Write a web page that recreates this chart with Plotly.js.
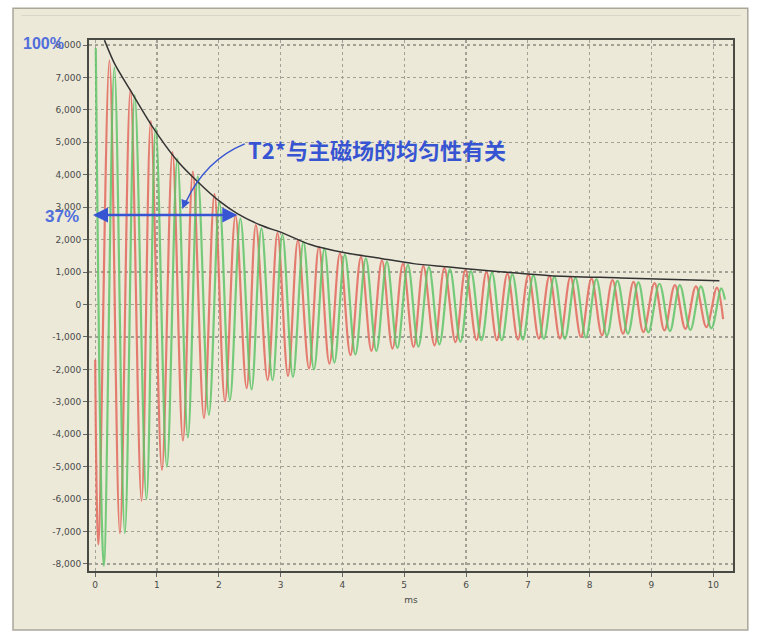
<!DOCTYPE html>
<html>
<head>
<meta charset="utf-8">
<script src="https://cdn.plot.ly/plotly-3.0.1.min.js"></script>
<style>html,body{margin:0;padding:0;background:#fff;}#chart{width:757px;height:636px;}</style>
</head>
<body>
<div id="chart"></div>
<script>
// Red signal: extrema (time in ms, amplitude)
const redT = [0.00, 0.05, 0.23, 0.40, 0.57, 0.75, 0.90, 1.08, 1.25, 1.42, 1.58, 1.76, 1.93, 2.10, 2.27, 2.45, 2.60, 2.79, 2.95, 3.12, 3.28, 3.46, 3.62, 3.79, 3.96, 4.13, 4.30, 4.47, 4.64, 4.81, 4.98, 5.15, 5.31, 5.49, 5.65, 5.83, 5.99, 6.17, 6.33, 6.50, 6.67, 6.84, 7.01, 7.18, 7.35, 7.52, 7.69, 7.86, 8.03, 8.20, 8.37, 8.54, 8.71, 8.87, 9.05, 9.21, 9.38, 9.55, 9.72, 9.89, 10.06, 10.16];
const redV = [-1700, -7400, 7520, -7050, 6620, -6050, 5650, -5100, 4700, -4200, 4100, -3500, 3400, -2980, 2750, -2580, 2450, -2330, 2200, -2200, 1980, -1970, 1780, -1820, 1580, -1560, 1460, -1430, 1360, -1360, 1260, -1310, 1180, -1260, 1120, -1160, 1060, -1100, 1000, -1100, 950, -1080, 920, -1050, 880, -1050, 850, -1000, 800, -950, 750, -900, 700, -850, 660, -800, 600, -750, 560, -700, 520, -450];
// Green signal
const greenT = [0.01, 0.14, 0.31, 0.48, 0.64, 0.83, 0.98, 1.16, 1.33, 1.50, 1.66, 1.84, 2.01, 2.18, 2.35, 2.53, 2.69, 2.87, 3.03, 3.20, 3.37, 3.54, 3.71, 3.87, 4.04, 4.21, 4.38, 4.55, 4.72, 4.89, 5.06, 5.23, 5.40, 5.57, 5.74, 5.91, 6.08, 6.25, 6.42, 6.58, 6.75, 6.92, 7.09, 7.26, 7.43, 7.60, 7.77, 7.94, 8.11, 8.28, 8.45, 8.62, 8.79, 8.95, 9.13, 9.30, 9.46, 9.63, 9.80, 9.97, 10.13, 10.19];
const greenV = [7900, -8050, 7300, -7050, 6450, -6000, 5450, -5000, 4500, -4100, 3950, -3400, 3150, -2950, 2650, -2620, 2350, -2330, 2150, -2230, 1930, -2000, 1720, -1790, 1540, -1540, 1420, -1430, 1320, -1340, 1220, -1300, 1150, -1230, 1090, -1150, 1030, -1100, 980, -1100, 930, -1080, 900, -1060, 860, -1060, 820, -1020, 780, -960, 730, -900, 680, -860, 640, -820, 600, -780, 560, -730, 500, 150];
// Decay envelope
const envT = [0.15, 0.32, 0.57, 0.92, 1.32, 1.65, 2.00, 2.30, 2.67, 3.04, 3.48, 4.02, 4.62, 5.15, 5.69, 6.23, 6.77, 7.36, 8.50, 10.10];
const envV = [8150, 7400, 6600, 5500, 4450, 3800, 3200, 2800, 2450, 2200, 1850, 1600, 1420, 1260, 1160, 1060, 975, 890, 820, 730];
// Axis ticks
const xTickVals = [0, 1, 2, 3, 4, 5, 6, 7, 8, 9, 10];
const yTickVals = [8000, 7000, 6000, 5000, 4000, 3000, 2000, 1000, 0, -1000, -2000, -3000, -4000, -5000, -6000, -7000, -8000];
const yTickText = ["8,000", "7,000", "6,000", "5,000", "4,000", "3,000", "2,000", "1,000", "0", "-1,000", "-2,000", "-3,000", "-4,000", "-5,000", "-6,000", "-7,000", "-8,000"];
// Annotation texts and points
const labelTop = "100%";
const label37 = "37%";
const noteText = "T2*与主磁场的均匀性有关";
const level37 = 2759;
const t37 = 2.30;

const blue = 'rgb(55,85,210)';
const beige = '#ece9d8';

const traces = [
  {x: redT, y: redV, type: 'scatter', mode: 'lines', line: {color: 'rgb(226,112,100)', width: 2.2, shape: 'spline', smoothing: 1}, opacity: 0.9, hoverinfo: 'skip'},
  {x: greenT, y: greenV, type: 'scatter', mode: 'lines', line: {color: 'rgb(95,196,105)', width: 2.2, shape: 'spline', smoothing: 1}, opacity: 0.85, hoverinfo: 'skip'},
  {x: envT, y: envV, type: 'scatter', mode: 'lines', line: {color: '#333', width: 1.5, shape: 'spline', smoothing: 0.8}, hoverinfo: 'skip'}
];

const tickFont = {family: 'DejaVu Sans', size: 9, color: '#4a4a4a'};

const layout = {
  width: 757, height: 636,
  margin: {l: 89, r: 24, t: 40, b: 65},
  paper_bgcolor: '#ffffff',
  plot_bgcolor: beige,
  showlegend: false,
  xaxis: {
    range: [-0.1, 10.32], tickvals: xTickVals, ticks: 'outside', ticklen: 4, tickcolor: '#666',
    showgrid: true, gridcolor: '#a3a196', griddash: 'dot', gridwidth: 1.2,
    zeroline: false, showline: true, mirror: true, linecolor: '#4a4a44', linewidth: 2,
    tickfont: tickFont,
    title: {text: 'ms', font: {family: 'DejaVu Sans', size: 9, color: '#4a4a4a'}, standoff: 8}
  },
  yaxis: {
    range: [-8216, 8154], tickvals: yTickVals, ticktext: yTickText, ticks: 'outside', ticklen: 4, tickcolor: '#666',
    showgrid: true, gridcolor: '#a3a196', griddash: 'dot', gridwidth: 1.2,
    zeroline: false, showline: true, mirror: true, linecolor: '#4a4a44', linewidth: 2,
    tickfont: tickFont
  },
  shapes: [
    {type: 'rect', xref: 'paper', yref: 'paper', x0: -0.118, x1: 1.023, y0: -0.111, y1: 1.060,
     fillcolor: beige, line: {color: '#a9a79a', width: 1.5}, layer: 'below'},
    {type: 'line', xref: 'paper', yref: 'paper', x0: -0.105, x1: 1.012, y0: 1.046, y1: 1.046,
     line: {color: '#d8d5c6', width: 1}, layer: 'below'},
    {type: 'path', xref: 'x', yref: 'y', path: 'M 2.42,4950 Q 1.78,4455 1.46,3129',
     line: {color: blue, width: 1.5}}
  ],
  annotations: [
    {x: t37, y: level37, xref: 'x', yref: 'y', ax: -0.06, ay: level37, axref: 'x', ayref: 'y',
     text: '', showarrow: true, arrowhead: 2, arrowside: 'end+start', arrowsize: 1.2, arrowwidth: 2.5, arrowcolor: blue},
    {x: 1.41, y: 2944, xref: 'x', yref: 'y', ax: 4, ay: -10, text: '', showarrow: true,
     arrowhead: 2, arrowsize: 1.2, arrowwidth: 1.5, arrowcolor: blue},
    {x: 2.44, y: 4780, xref: 'x', yref: 'y', xanchor: 'left', yanchor: 'middle', showarrow: false,
     text: noteText, font: {family: 'Noto Sans CJK SC', size: 22, color: blue, weight: 'bold'}},
    {x: -0.071, y: 0.993, xref: 'paper', yref: 'paper', xanchor: 'center', yanchor: 'middle', showarrow: false,
     text: labelTop, font: {family: 'Liberation Sans', size: 16, color: 'rgb(80,110,220)', weight: 'bold'}},
    {x: -0.042, y: 0.667, xref: 'paper', yref: 'paper', xanchor: 'center', yanchor: 'middle', showarrow: false,
     text: label37, font: {family: 'Liberation Sans', size: 17, color: 'rgb(80,110,220)', weight: 'bold'}}
  ]
};

Plotly.newPlot('chart', traces, layout, {staticPlot: true, displayModeBar: false});
</script>
</body>
</html>
